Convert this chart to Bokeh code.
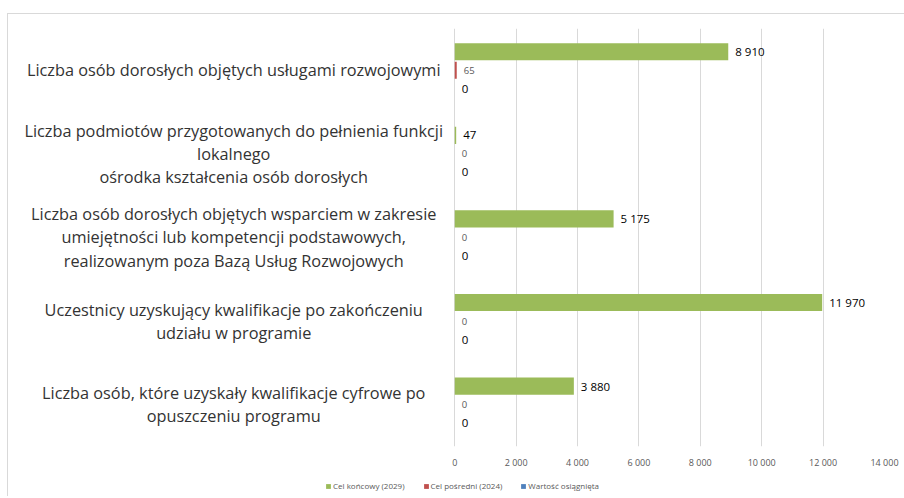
from bokeh.plotting import figure
from bokeh.layouts import column
from bokeh.models import ColumnDataSource, FactorRange, FixedTicker, Legend, LegendItem, Range1d
from bokeh.transform import dodge
from bokeh.core.properties import value
from bokeh.embed import file_html
from bokeh.resources import INLINE

categories = [
    "Liczba osób dorosłych objętych usługami rozwojowymi",
    "Liczba podmiotów przygotowanych do pełnienia funkcji\nlokalnego\nośrodka kształcenia osób dorosłych",
    "Liczba osób dorosłych objętych wsparciem w zakresie\numiejętności lub kompetencji podstawowych,\nrealizowanym poza Bazą Usług Rozwojowych",
    "Uczestnicy uzyskujący kwalifikacje po zakończeniu\nudziału w programie",
    "Liczba osób, które uzyskały kwalifikacje cyfrowe po\nopuszczeniu programu",
]
target_2029 = [8910, 47, 5175, 11970, 3880]
target_2024 = [65, 0, 0, 0, 0]
achieved = [0, 0, 0, 0, 0]
series_names = ["Cel końcowy (2029)", "Cel pośredni (2024)", "Wartość osiągnięta"]
x_ticks = [0, 2000, 4000, 6000, 8000, 10000, 12000, 14000]


def fmt(v):
    return f"{v:,}".replace(",", " ")


FONT = "Open Sans"
BORDER = "1px solid #d9d9d9"
colors = ["#9BBB59", "#C0504D", "#4F81BD"]
offsets = [0.222, 0.0, -0.222]
label_colors = ["#000000", "#595959", "#000000"]
label_sizes = ["11.5px", "9.5px", "11.5px"]

cat_keys = ["c1", "c2", "c3", "c4", "c5"]

p = figure(
    width=897, height=460,
    x_range=Range1d(-14472, 14000),
    y_range=FactorRange(factors=list(reversed(cat_keys))),
    output_backend="svg", toolbar_location=None,
    min_border_left=2, min_border_right=21, min_border_top=14, min_border_bottom=28,
    margin=(13, 0, 0, 7),
    styles={"border-left": BORDER, "border-top": BORDER},
)
p.yaxis.visible = False
p.outline_line_color = None
p.ygrid.visible = False
p.xgrid.ticker = FixedTicker(ticks=x_ticks)
p.xgrid.bounds = (0, 14000)
p.xgrid.grid_line_color = "#d9d9d9"

p.xaxis.ticker = FixedTicker(ticks=x_ticks)
p.xaxis.major_label_overrides = {t: fmt(t) for t in x_ticks}
p.xaxis.axis_line_color = None
p.xaxis.major_tick_line_color = None
p.xaxis.minor_tick_line_color = None
p.xaxis.major_label_text_font = FONT
p.xaxis.major_label_text_font_size = "9px"
p.xaxis.major_label_text_color = "#595959"
p.xaxis.major_label_standoff = 3

sources = []
for name, vals, col, off, lc, ls in zip(series_names, [target_2029, target_2024, achieved],
                                        colors, offsets, label_colors, label_sizes):
    src = ColumnDataSource(dict(cat=cat_keys, v=vals, label=[fmt(v) for v in vals]))
    sources.append(src)
    p.hbar(y=dodge("cat", off, range=p.y_range), left=0, right="v", height=0.205,
           fill_color=col, line_color=None, source=src)
    p.text(x="v", y=dodge("cat", off, range=p.y_range), text="label", source=src,
           x_offset=7, text_align="left", text_baseline="middle",
           text_font=value(FONT), text_font_size=ls, text_color=lc)

cat_src = ColumnDataSource(dict(cat=cat_keys, name=categories))
p.text(x=-7200, y="cat", text="name", source=cat_src, text_align="center",
       text_baseline="middle", text_font=value(FONT), text_font_size="16.3px",
       text_color="#333333", text_line_height=1.05)

# legend strip below the chart
pl = figure(
    width=897, height=23, x_range=Range1d(0, 1),
    y_range=FactorRange(factors=list(reversed(cat_keys))),
    output_backend="svg", toolbar_location=None,
    x_axis_location=None, y_axis_location=None,
    min_border_left=0, min_border_right=0, min_border_top=0, min_border_bottom=0,
    margin=(0, 0, 0, 7), styles={"border-left": BORDER},
)
pl.grid.visible = False
pl.outline_line_color = None
items = []
for name, col, src in zip(series_names, colors, sources):
    r = pl.hbar(y="cat", left=0, right="v", height=0.5, fill_color=col, line_color=None,
                source=src, visible=False)
    items.append(LegendItem(label=name, renderers=[r]))
legend = Legend(items=items, orientation="horizontal", location=(315, 5),
                glyph_width=6, glyph_height=6, label_text_font=FONT,
                label_text_font_size="8px", label_text_color="#595959",
                label_height=9, label_standoff=2, spacing=18, padding=2,
                border_line_color=None, background_fill_alpha=0, margin=0,
                inactive_fill_alpha=0)
pl.add_layout(legend, "center")

layout = column(p, pl, spacing=0)
open("out.html", "w").write(file_html(layout, INLINE))
